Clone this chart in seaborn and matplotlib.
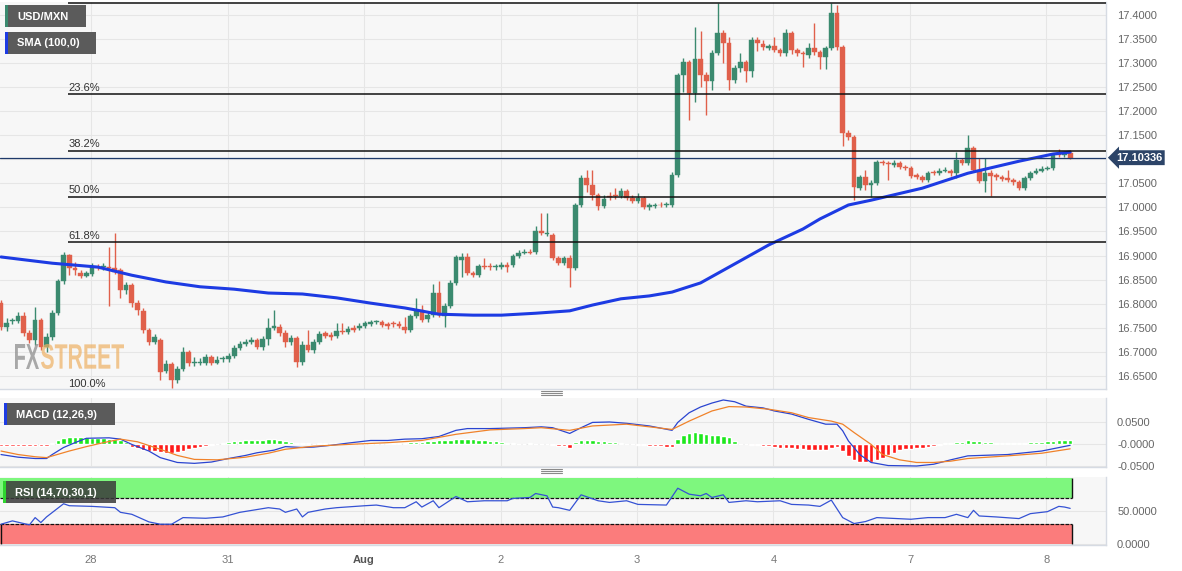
import numpy as np
import matplotlib
matplotlib.use("Agg")
import matplotlib.pyplot as plt
import matplotlib.transforms as mtrans
from matplotlib.patches import Rectangle, PathPatch
from matplotlib.lines import Line2D
from matplotlib.textpath import TextPath
from matplotlib.font_manager import FontProperties
import seaborn as sns

# ---- hourly USD/MXN candles ----
opens = [16.801, 16.751, 16.764, 16.764, 16.774, 16.739, 16.724, 16.766, 16.710, 16.731,
         16.780, 16.847, 16.901, 16.874, 16.864, 16.857, 16.861, 16.876, 16.876, 16.876,
         16.874, 16.870, 16.828, 16.839, 16.801, 16.785, 16.745, 16.720, 16.724, 16.660,
         16.674, 16.641, 16.664, 16.699, 16.676, 16.676, 16.676, 16.689, 16.676, 16.685,
         16.685, 16.691, 16.708, 16.716, 16.720, 16.724, 16.710, 16.726, 16.749, 16.751,
         16.739, 16.720, 16.728, 16.678, 16.714, 16.704, 16.720, 16.739, 16.735, 16.733,
         16.743, 16.741, 16.749, 16.749, 16.753, 16.758, 16.762, 16.762, 16.758, 16.758,
         16.758, 16.751, 16.745, 16.774, 16.787, 16.768, 16.776, 16.822, 16.774, 16.795,
         16.843, 16.891, 16.897, 16.864, 16.859, 16.878, 16.878, 16.876, 16.876, 16.880,
         16.880, 16.899, 16.905, 16.907, 16.907, 16.951, 16.945, 16.942, 16.895, 16.884,
         16.895, 16.874, 17.005, 17.061, 17.046, 17.026, 17.003, 17.022, 17.024, 17.024,
         17.034, 17.020, 17.013, 17.020, 17.001, 17.003, 17.005, 17.005, 17.005, 17.067,
         17.275, 17.302, 17.238, 17.309, 17.275, 17.263, 17.321, 17.363, 17.342, 17.265,
         17.290, 17.302, 17.284, 17.348, 17.340, 17.331, 17.336, 17.327, 17.321, 17.363,
         17.327, 17.321, 17.317, 17.331, 17.323, 17.313, 17.331, 17.404, 17.333, 17.155,
         17.146, 17.040, 17.063, 17.046, 17.051, 17.094, 17.092, 17.088, 17.092, 17.084,
         17.082, 17.067, 17.063, 17.057, 17.073, 17.071, 17.076, 17.076, 17.071, 17.099,
         17.092, 17.123, 17.078, 17.055, 17.071, 17.067, 17.063, 17.061, 17.057, 17.053,
         17.040, 17.061, 17.071, 17.076, 17.080, 17.082, 17.113, 17.109, 17.113]
highs = [16.807, 16.770, 16.770, 16.782, 16.782, 16.745, 16.793, 16.770, 16.739, 16.787,
         16.851, 16.907, 16.903, 16.886, 16.870, 16.868, 16.884, 16.882, 16.884, 16.918,
         16.947, 16.874, 16.845, 16.843, 16.807, 16.791, 16.749, 16.737, 16.728, 16.683,
         16.678, 16.670, 16.710, 16.704, 16.689, 16.687, 16.695, 16.693, 16.691, 16.691,
         16.697, 16.714, 16.722, 16.726, 16.731, 16.728, 16.733, 16.770, 16.787, 16.758,
         16.745, 16.735, 16.733, 16.722, 16.745, 16.726, 16.743, 16.743, 16.741, 16.760,
         16.760, 16.753, 16.755, 16.760, 16.764, 16.766, 16.766, 16.766, 16.762, 16.764,
         16.764, 16.772, 16.778, 16.812, 16.797, 16.782, 16.841, 16.847, 16.801, 16.849,
         16.901, 16.905, 16.905, 16.868, 16.882, 16.895, 16.884, 16.882, 16.886, 16.886,
         16.903, 16.911, 16.913, 16.913, 16.961, 16.988, 16.988, 16.947, 16.899, 16.899,
         16.901, 17.009, 17.067, 17.078, 17.078, 17.030, 17.026, 17.032, 17.040, 17.040,
         17.038, 17.026, 17.030, 17.024, 17.009, 17.009, 17.011, 17.011, 17.073, 17.279,
         17.311, 17.306, 17.375, 17.367, 17.281, 17.327, 17.425, 17.369, 17.354, 17.296,
         17.321, 17.306, 17.354, 17.354, 17.348, 17.340, 17.354, 17.331, 17.371, 17.367,
         17.331, 17.325, 17.342, 17.383, 17.327, 17.336, 17.425, 17.421, 17.337, 17.161,
         17.150, 17.067, 17.078, 17.057, 17.099, 17.099, 17.096, 17.099, 17.096, 17.088,
         17.086, 17.071, 17.067, 17.075, 17.078, 17.082, 17.084, 17.080, 17.115, 17.103,
         17.150, 17.128, 17.103, 17.103, 17.078, 17.071, 17.067, 17.078, 17.061, 17.057,
         17.065, 17.075, 17.082, 17.086, 17.086, 17.113, 17.121, 17.117, 17.119]
lows = [16.745, 16.743, 16.758, 16.760, 16.733, 16.718, 16.714, 16.704, 16.699, 16.724,
        16.776, 16.841, 16.859, 16.859, 16.853, 16.855, 16.857, 16.870, 16.870, 16.795,
        16.861, 16.812, 16.820, 16.793, 16.776, 16.739, 16.714, 16.716, 16.641, 16.655,
        16.624, 16.635, 16.660, 16.670, 16.670, 16.672, 16.672, 16.672, 16.674, 16.678,
        16.678, 16.687, 16.704, 16.712, 16.716, 16.706, 16.704, 16.714, 16.745, 16.733,
        16.710, 16.714, 16.668, 16.672, 16.699, 16.697, 16.716, 16.728, 16.724, 16.728,
        16.737, 16.737, 16.741, 16.745, 16.749, 16.753, 16.758, 16.751, 16.747, 16.751,
        16.749, 16.739, 16.741, 16.770, 16.762, 16.762, 16.772, 16.772, 16.751, 16.791,
        16.839, 16.855, 16.859, 16.855, 16.855, 16.872, 16.870, 16.870, 16.872, 16.866,
        16.876, 16.895, 16.903, 16.903, 16.903, 16.942, 16.940, 16.891, 16.880, 16.880,
        16.834, 16.870, 17.001, 17.032, 17.015, 16.995, 16.999, 17.015, 17.017, 17.020,
        17.015, 17.009, 17.009, 16.997, 16.995, 16.999, 17.001, 17.001, 17.001, 17.063,
        17.240, 17.182, 17.219, 17.250, 17.192, 17.244, 17.317, 17.300, 17.244, 17.259,
        17.281, 17.261, 17.271, 17.325, 17.327, 17.327, 17.323, 17.315, 17.315, 17.319,
        17.315, 17.292, 17.311, 17.317, 17.288, 17.288, 17.327, 17.327, 17.128, 17.140,
        17.015, 17.036, 17.036, 17.022, 17.046, 17.088, 17.057, 17.084, 17.080, 17.078,
        17.061, 17.059, 17.053, 17.053, 17.067, 17.067, 17.073, 17.065, 17.061, 17.088,
        17.088, 17.073, 17.051, 17.032, 17.024, 17.057, 17.055, 17.053, 17.046, 17.036,
        17.036, 17.057, 17.069, 17.073, 17.078, 17.078, 17.105, 17.105, 17.101]
closes = [16.751, 16.760, 16.766, 16.774, 16.739, 16.724, 16.766, 16.710, 16.731, 16.780,
          16.847, 16.901, 16.874, 16.870, 16.857, 16.864, 16.876, 16.875, 16.878, 16.874,
          16.866, 16.828, 16.839, 16.801, 16.787, 16.745, 16.720, 16.731, 16.658, 16.674,
          16.641, 16.664, 16.699, 16.676, 16.676, 16.677, 16.689, 16.676, 16.683, 16.685,
          16.691, 16.708, 16.716, 16.720, 16.724, 16.710, 16.726, 16.749, 16.753, 16.739,
          16.720, 16.728, 16.678, 16.714, 16.704, 16.720, 16.737, 16.733, 16.731, 16.743,
          16.741, 16.747, 16.745, 16.753, 16.760, 16.762, 16.763, 16.755, 16.753, 16.757,
          16.753, 16.745, 16.774, 16.787, 16.766, 16.776, 16.822, 16.776, 16.795, 16.843,
          16.897, 16.897, 16.864, 16.859, 16.878, 16.876, 16.876, 16.877, 16.880, 16.876,
          16.899, 16.905, 16.907, 16.906, 16.951, 16.947, 16.946, 16.895, 16.884, 16.895,
          16.874, 17.005, 17.061, 17.046, 17.026, 17.003, 17.017, 17.021, 17.023, 17.034,
          17.020, 17.013, 17.020, 17.001, 17.005, 17.004, 17.004, 17.006, 17.067, 17.275,
          17.302, 17.238, 17.309, 17.275, 17.263, 17.321, 17.363, 17.342, 17.265, 17.290,
          17.302, 17.284, 17.348, 17.342, 17.333, 17.336, 17.327, 17.321, 17.363, 17.327,
          17.321, 17.319, 17.331, 17.323, 17.313, 17.331, 17.404, 17.333, 17.155, 17.146,
          17.042, 17.063, 17.046, 17.051, 17.094, 17.092, 17.090, 17.092, 17.084, 17.082,
          17.065, 17.063, 17.057, 17.071, 17.071, 17.076, 17.078, 17.071, 17.099, 17.092,
          17.123, 17.078, 17.055, 17.071, 17.065, 17.063, 17.059, 17.057, 17.053, 17.040,
          17.061, 17.071, 17.076, 17.080, 17.082, 17.109, 17.109, 17.113, 17.10336]

# SMA(100) line, sampled along the chart (candle index, value)
sma_idx = [0, 9, 17, 23, 29, 35, 41, 47, 53, 59, 65, 71, 77, 83, 88, 94, 100, 104,
           109, 114, 118, 123, 130, 135, 141, 144, 149, 153, 162, 170, 179, 185, 188]
sma_val = [16.897, 16.884, 16.876, 16.859, 16.845, 16.835, 16.830, 16.822, 16.820,
           16.812, 16.801, 16.791, 16.778, 16.776, 16.776, 16.780, 16.785, 16.797,
           16.810, 16.816, 16.824, 16.843, 16.889, 16.922, 16.955, 16.976, 17.005,
           17.015, 17.040, 17.071, 17.096, 17.111, 17.115]

# Fibonacci retracement (the 0% label sits above the visible area)
fib_high = 17.425
fib_low = 16.620
fib_ratios = [0.0, 0.236, 0.382, 0.5, 0.618, 1.0]
fib_labels = ["", "23.6%", "38.2%", "50.0%", "61.8%", "100.0%"]
last_price = 17.10336

# MACD (12,26,9)
macd_idx = [0, 3, 6, 8, 9, 11, 13, 15, 19, 21, 23, 26, 28, 31, 34, 37, 40, 43, 45,
            48, 50, 53, 55, 58, 61, 65, 68, 71, 74, 77, 80, 82, 86, 89, 92, 95, 97,
            100, 102, 104, 107, 110, 114, 118, 119, 121, 123, 125, 127, 129, 131,
            134, 136, 139, 142, 145, 147, 148, 149, 151, 153, 156, 161, 164, 167,
            170, 177, 183, 188]
macd_val = [-0.024, -0.030, -0.033, -0.033, -0.024, -0.008, 0.003, 0.013, 0.014,
            0.011, -0.001, -0.016, -0.031, -0.042, -0.044, -0.041, -0.033, -0.026,
            -0.020, -0.014, -0.006, -0.008, -0.007, -0.003, 0.002, 0.008, 0.008,
            0.011, 0.012, 0.017, 0.031, 0.035, 0.035, 0.036, 0.037, 0.039, 0.037,
            0.024, 0.037, 0.049, 0.050, 0.047, 0.041, 0.031, 0.049, 0.071, 0.084,
            0.093, 0.100, 0.096, 0.086, 0.082, 0.075, 0.068, 0.056, 0.045, 0.045,
            0.030, 0.007, -0.024, -0.042, -0.049, -0.050, -0.046, -0.036, -0.027,
            -0.024, -0.016, -0.003]
signal_idx = [0, 3, 6, 8, 12, 15, 18, 21, 24, 28, 31, 34, 38, 43, 47, 50, 55, 61,
              68, 74, 80, 86, 92, 95, 100, 104, 110, 118, 121, 125, 128, 131, 135,
              139, 142, 146, 148, 150, 153, 155, 158, 161, 164, 167, 170, 177, 183, 188]
signal_val = [-0.016, -0.024, -0.029, -0.031, -0.016, -0.006, 0.003, 0.011, 0.005,
              -0.012, -0.026, -0.035, -0.036, -0.030, -0.021, -0.012, -0.005, -0.001,
              0.003, 0.008, 0.022, 0.032, 0.035, 0.037, 0.031, 0.041, 0.045, 0.033,
              0.052, 0.075, 0.085, 0.084, 0.079, 0.071, 0.060, 0.052, 0.045, 0.026,
              -0.001, -0.024, -0.036, -0.042, -0.042, -0.039, -0.033, -0.027, -0.021,
              -0.011]
macd_hist = [-0.005, -0.005, -0.005, -0.005, -0.005, -0.005, -0.005, -0.005, -0.005,
             0.002,
             0.009, 0.014, 0.017, 0.017, 0.017, 0.015, 0.014, 0.014, 0.013, 0.012,
             0.011, 0.008, 0.004,
             -0.006, -0.010, -0.013, -0.015, -0.016, -0.018, -0.020, -0.020, -0.019,
             -0.016, -0.012, -0.009, -0.006, -0.005, -0.003, -0.001,
             0.003, 0.005, 0.006, 0.007, 0.008, 0.008, 0.009, 0.010, 0.011, 0.011,
             0.009, 0.007, 0.005, 0.003,
             0.002, 0.002, 0.001, 0.002, 0.002, 0.003, 0.002, 0.002, 0.001, 0.002,
             0.001, 0.001, 0.002, 0.001, 0.001, 0.002,
             0.002, 0.003, 0.003, 0.004, 0.005, 0.005, 0.006, 0.007, 0.008, 0.009,
             0.010, 0.011, 0.012, 0.012, 0.011, 0.010, 0.008, 0.007, 0.006, 0.005,
             0.003, 0.002, 0.001, 0.001, 0.002, 0.001, 0.001, 0.001,
             -0.003, -0.005, -0.005, -0.008,
             0.004, 0.009, 0.009, 0.008, 0.007, 0.006, 0.005, 0.004, 0.003, 0.001,
             -0.001, -0.002, -0.003, -0.005, -0.005, -0.005, -0.006, -0.006,
             0.012, 0.020, 0.024, 0.027, 0.026, 0.022, 0.020, 0.020, 0.019, 0.015,
             0.007,
             -0.001, -0.001, -0.002, -0.003, -0.004, -0.005, -0.007, -0.008, -0.009,
             -0.010, -0.011, -0.012, -0.013, -0.013, -0.014, -0.014, -0.008, -0.007,
             -0.016, -0.027, -0.036, -0.041, -0.042, -0.042, -0.036, -0.031, -0.026,
             -0.020, -0.014, -0.012, -0.011, -0.009, -0.008, -0.006, -0.005, -0.003,
             0.002, 0.003, 0.004, 0.005, 0.008, 0.007, 0.006, 0.005, 0.004, 0.003,
             0.003, 0.003, 0.002, 0.003, 0.003, 0.004, 0.005, 0.005, 0.006, 0.007,
             0.008, 0.008, 0.008]

# RSI (14)
rsi_idx = [0, 2, 5, 6, 7, 8, 11, 12, 16, 20, 21, 23, 26, 28, 30, 32, 36, 39, 42, 47,
           49, 50, 52, 53, 54, 57, 59, 64, 66, 69, 71, 73, 74, 76, 77, 80, 82, 85, 89,
           90, 93, 94, 96, 97, 98, 100, 102, 103, 105, 107, 110, 112, 117, 119, 121,
           123, 124, 125, 127, 128, 131, 133, 137, 139, 142, 144, 146, 148, 150, 152,
           154, 160, 163, 166, 168, 170, 171, 172, 175, 179, 181, 184, 186, 187, 188]
rsi_val = [30, 35, 29, 40, 32.5, 41, 61, 58, 57, 55, 48, 45, 33.5, 30, 30, 40, 39, 41,
           48, 55, 53, 48, 53, 41, 48, 53, 55, 58, 59, 55, 55, 64, 56, 65.5, 55, 72, 64,
           65.5, 65.5, 69, 70.5, 76.5, 73, 56, 55, 51, 74.5, 71.5, 65.5, 63, 65.5, 60,
           59, 84.5, 75.5, 73, 76.5, 70.5, 74.5, 63, 65.5, 64, 65.5, 60, 59, 57, 66.5,
           40, 31, 34, 40, 37.5, 40, 40, 45, 40, 51, 42.5, 41, 38.5, 46, 49, 57, 56, 54]

day_pos = [15.83 + 24 * k for k in range(8)]
day_labels = ["28", "31", "Aug", "2", "3", "4", "7", "8"]

# ---- style ----
sns.set_style("white")
plt.rcParams["font.family"] = ["Liberation Sans", "DejaVu Sans"]

W, H = 1182, 571
fig = plt.figure(figsize=(W / 100, H / 100), dpi=100)


def px_axes(left, top, right, bottom):
    return fig.add_axes([left / W, 1 - bottom / H, (right - left) / W, (bottom - top) / H])


ax = px_axes(0, 2, 1106, 389)
ax_macd = px_axes(0, 398, 1106, 467)
ax_rsi = px_axes(0, 477, 1106, 545)

XL = (-0.18, 194.3)
grid_c = "#e6e6e6"
spine_c = "#d6dbe3"
tick_c = "#666666"
green = "#3b8a6f"
red = "#e0604b"

for a in (ax, ax_macd, ax_rsi):
    a.set_facecolor("#f7f7f7")
    a.set_xlim(*XL)
    a.set_xticks(day_pos)
    a.yaxis.tick_right()
    a.tick_params(axis="y", length=0, pad=8, labelsize=8, labelcolor=tick_c)
    a.tick_params(axis="x", length=0)
    a.grid(True, color=grid_c, lw=0.8)
    a.set_axisbelow(True)
    for s in a.spines.values():
        s.set_color(spine_c)
        s.set_linewidth(1)
    a.spines["left"].set_visible(False)
    a.spines["top"].set_visible(False)

# ---- main price pane ----
x = np.arange(len(closes))
o = np.array(opens)
c = np.array(closes)
hi = np.array(highs)
lo = np.array(lows)
colors = [green if cc >= oo else red for oo, cc in zip(o, c)]
body_bottom = np.minimum(o, c)
body_h = np.maximum(np.abs(c - o), 0.0018)

ax.vlines(x, lo, hi, colors=colors, lw=1, zorder=3)
ax.bar(x, body_h, bottom=body_bottom, width=0.82, color=colors, edgecolor=colors,
       linewidth=0.3, zorder=4)

sns.lineplot(x=sma_idx, y=sma_val, ax=ax, color="#1d3be3", linewidth=2.2, zorder=5)

ax.set_ylim(16.6225, 17.427)
yt = np.round(np.arange(16.65, 17.4001, 0.05), 2)
ax.set_yticks(yt)
# the 17.1000 label sits under the last-price marker
ax.set_yticklabels(["" if abs(v - 17.10) < 1e-6 else f"{v:.4f}" for v in yt])
ax.set_xticklabels([])

fx0 = 11.8
for r, lab in zip(fib_ratios, fib_labels):
    lvl = fib_high - r * (fib_high - fib_low)
    ax.hlines(lvl, fx0, XL[1], color="#111111", lw=1.1, zorder=6)
    if lab:
        ax.text(fx0, lvl + 0.003, lab, fontsize=8, color="#333333", ha="left",
                va="bottom", zorder=6, clip_on=True)

ax.axhline(last_price, color="#1f3a6a", lw=0.9, zorder=6)
blend = mtrans.blended_transform_factory(ax.transAxes, ax.transData)
ax.text(1.0 + 10 / 1106, last_price, "17.10336", transform=blend, ha="left", va="center",
        fontsize=8, fontweight="bold", color="white", zorder=20, clip_on=False,
        bbox=dict(boxstyle="larrow,pad=0.22", fc="#2c4468", ec="none"))


# watermark, squeezed to the box it fills in the reference
def stretched_word(word, left, right, bottom_px, height_px, color, alpha):
    tp = TextPath((0, 0), word, size=20, prop=FontProperties(family="Liberation Sans",
                                                             weight="bold"))
    ext = tp.get_extents()
    tr = (mtrans.Affine2D().translate(-ext.x0, -ext.y0)
          .scale((right - left) / ext.width, height_px / ext.height)
          .translate(left, H - bottom_px).scale(1 / W, 1 / H) + fig.transFigure)
    fig.add_artist(PathPatch(tp, transform=tr, fc=color, ec="none", alpha=alpha, zorder=2))


stretched_word("FX", 15, 39, 369, 25, "#8e8e8e", 0.75)
stretched_word("STREET", 41, 124, 369, 25, "#eeb163", 0.7)

# ---- MACD pane ----
hist = np.array(macd_hist)
hcol = ["#1de81d" if v >= 0 else "#ff1a1a" for v in hist]
ax_macd.bar(x, hist, width=0.8, color=hcol, zorder=3)
sns.lineplot(x=macd_idx, y=macd_val, ax=ax_macd, color="#2a44d0", linewidth=0.9, zorder=4)
sns.lineplot(x=signal_idx, y=signal_val, ax=ax_macd, color="#f0822a", linewidth=0.9, zorder=4)
ax_macd.set_ylim(-0.0523, 0.1045)
ax_macd.set_yticks([0.05, 0.0, -0.05])
ax_macd.set_yticklabels(["0.0500", "-0.0000", "-0.0500"])
ax_macd.set_xticklabels([])

# ---- RSI pane ----
band_end = 188.4
ax_rsi.fill_between([XL[0], band_end], 70, 100, color="#7ef77e", zorder=1, lw=0)
ax_rsi.fill_between([XL[0], band_end], 0, 30, color="#fb7c7c", zorder=1, lw=0)
ax_rsi.hlines([70, 30], XL[0], band_end, colors="#111111", lw=0.9, linestyles=(0, (3, 1)),
              zorder=2)
ax_rsi.vlines([band_end, band_end], [70, 0], [100, 30], colors="#111111", lw=1, zorder=2)
ax_rsi.vlines([XL[0] + 0.15], [0], [30], colors="#111111", lw=1, zorder=2)
sns.lineplot(x=rsi_idx, y=rsi_val, ax=ax_rsi, color="#3552d4", linewidth=0.9, zorder=4)
ax_rsi.set_ylim(-1.5, 101.5)
ax_rsi.set_yticks([50, 0])
ax_rsi.set_yticklabels(["50.0000", "0.0000"])
ax_rsi.set_xticklabels(day_labels)
ax_rsi.tick_params(axis="x", labelsize=8, labelcolor="#777777", pad=7)
for i, lab in enumerate(ax_rsi.get_xticklabels()):
    if day_labels[i] == "Aug":
        lab.set_fontweight("bold")
        lab.set_color("#555555")

for a in (ax, ax_macd, ax_rsi):
    a.set_xlabel("")
    a.set_ylabel("")


# ---- panel captions ----
def caption(x0, y0, w, h, text, stripe, fc="#5b5b5b", alpha=1.0):
    fig.add_artist(Rectangle((x0 / W, 1 - (y0 + h) / H), w / W, h / H,
                             transform=fig.transFigure, fc=fc, ec="none", alpha=alpha,
                             zorder=30))
    fig.add_artist(Rectangle((x0 / W, 1 - (y0 + h) / H), 3 / W, h / H,
                             transform=fig.transFigure, fc=stripe, ec="none", zorder=31))
    fig.text((x0 + 12) / W, 1 - (y0 + h / 2 + 0.5) / H, text, color="white", fontsize=8,
             fontweight="bold", va="center", ha="left", zorder=32)


caption(5, 5, 81, 22, "USD/MXN", green)
caption(5, 32, 91, 22, "SMA (100,0)", "#1d3be3")
caption(4, 403, 111, 22, "MACD (12,26,9)", "#1d3be3")
caption(3, 481, 113, 22, "RSI (14,70,30,1)", "#2ed62e", fc="#3a3a3a", alpha=0.85)

# pane separators
for yy in (393, 471):
    for d in (-1.6, 0, 1.6):
        fig.add_artist(Line2D([541 / W, 562 / W], [1 - (yy + d) / H] * 2,
                              transform=fig.transFigure, color="#8a8a8a", lw=0.8))

fig.savefig("out.png", dpi=100, facecolor="white")
